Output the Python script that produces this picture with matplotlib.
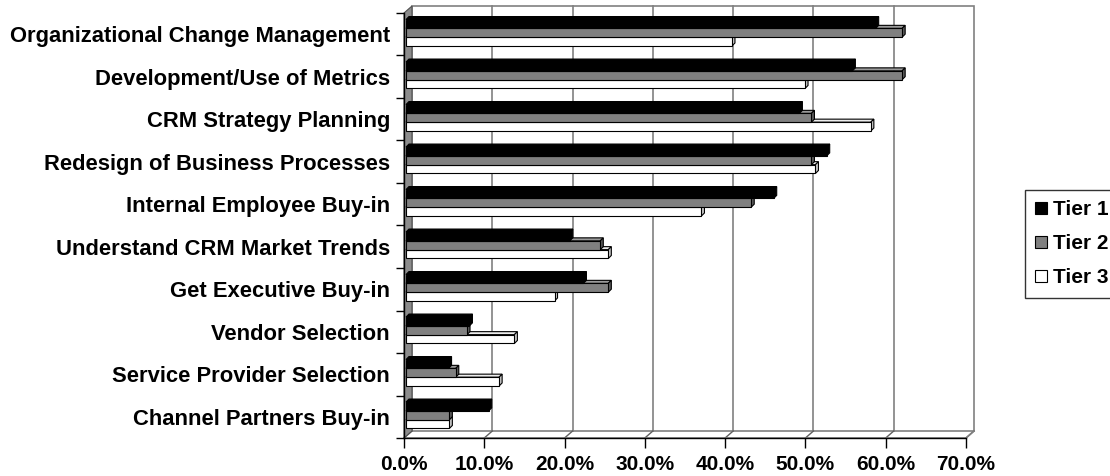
import matplotlib.pyplot as plt
from matplotlib.patches import Polygon, Patch

plt.rcParams['font.family'] = ['Liberation Sans', 'DejaVu Sans']
plt.rcParams['font.weight'] = 'bold'

categories = [
    'Organizational Change Management',
    'Development/Use of Metrics',
    'CRM Strategy Planning',
    'Redesign of Business Processes',
    'Internal Employee Buy-in',
    'Understand CRM Market Trends',
    'Get Executive Buy-in',
    'Vendor Selection',
    'Service Provider Selection',
    'Channel Partners Buy-in',
]
tier1 = [58.5, 55.6, 49.0, 52.4, 45.8, 20.4, 22.1, 7.9, 5.3, 10.3]
tier2 = [61.8, 61.8, 50.5, 50.5, 43.0, 24.2, 25.2, 7.6, 6.2, 5.4]
tier3 = [40.6, 49.7, 57.9, 51.0, 36.8, 25.2, 18.5, 13.5, 11.6, 5.4]
series_names = ['Tier 1', 'Tier 2', 'Tier 3']
xticks = [0, 10, 20, 30, 40, 50, 60, 70]

# face colours: front, side, top
faces = [('#000000', '#000000', '#000000'),
         ('#808080', '#5a5a5a', '#9a9a9a'),
         ('#ffffff', '#c8c8c8', '#ececec')]

W, H = 1110, 476
fig = plt.figure(figsize=(W / 100, H / 100), dpi=100)
x0, x1, y_top, y_bot = 404, 966, 13, 438
ax = fig.add_axes([x0 / W, 1 - y_bot / H, (x1 - x0) / W, (y_bot - y_top) / H])
ax.set_xlim(0, 70)
ax.set_ylim(len(categories) - 0.5, -0.5)

# pixel -> data unit conversion, used for the pseudo-3D depth
ux = 70 / (x1 - x0)
uy = len(categories) / (y_bot - y_top)
wall_dx, wall_dy = 8 * ux, -7 * uy
ymin, ymax = -0.5, len(categories) - 0.5

# back wall, gridlines and floor
ax.add_patch(Polygon([(wall_dx, ymin + wall_dy), (70 + wall_dx, ymin + wall_dy),
                      (70 + wall_dx, ymax + wall_dy), (wall_dx, ymax + wall_dy)],
                     closed=True, facecolor='white', edgecolor='#808080',
                     lw=1.2, clip_on=False, zorder=0))
for t in xticks[1:-1]:
    ax.plot([t + wall_dx] * 2, [ymin + wall_dy, ymax + wall_dy],
            color='#808080', lw=1.2, clip_on=False, zorder=0.5)
for t in xticks:
    ax.plot([t, t + wall_dx], [ymax, ymax + wall_dy], color='#606060',
            lw=1, clip_on=False, zorder=0.5)
ax.plot([0, 70], [ymax, ymax], color='#808080', lw=1.2, clip_on=False, zorder=0.5)
ax.plot([70, 70 + wall_dx], [ymax, ymax + wall_dy], color='#808080', lw=1.2,
        clip_on=False, zorder=0.5)

# left side wall
ax.add_patch(Polygon([(0, ymin), (wall_dx, ymin + wall_dy), (wall_dx, ymax + wall_dy),
                      (0, ymax)], closed=True, facecolor='#8c8c8c',
                     edgecolor='#505050', lw=0.8, clip_on=False, zorder=0.6))

# 3D-looking bars
h = 8.8 * uy
bx, by = 2 * ux, -1.5 * uy
ddx, ddy = 3 * ux, -3 * uy
values = [tier1, tier2, tier3]
for j in [2, 1, 0]:
    front, side, top = faces[j]
    z = 2 + (2 - j)
    for i, v in enumerate(values[j]):
        yc = i + (j - 1) * h + by
        y0, y1 = yc - h / 2, yc + h / 2
        ax.add_patch(Polygon([(bx, y0), (bx + ddx, y0 + ddy), (v + bx + ddx, y0 + ddy),
                              (v + bx, y0)], closed=True, facecolor=top,
                             edgecolor='black', lw=0.8, zorder=z, clip_on=False))
        ax.add_patch(Polygon([(v + bx, y0), (v + bx + ddx, y0 + ddy),
                              (v + bx + ddx, y1 + ddy), (v + bx, y1)], closed=True,
                             facecolor=side, edgecolor='black', lw=0.8, zorder=z,
                             clip_on=False))
        ax.barh(yc, v, left=bx, height=h, color=front, edgecolor='black',
                lw=0.8, zorder=z + 0.1, clip_on=False)

# axes and ticks
ax.set_facecolor('none')
for s in ['top', 'right']:
    ax.spines[s].set_visible(False)
for s in ['left', 'bottom']:
    ax.spines[s].set_color('black')
    ax.spines[s].set_linewidth(1)
    ax.spines[s].set_zorder(10)
ax.set_xticks(xticks)
ax.set_xticklabels([f'{t:.1f}%' for t in xticks], fontsize=15, fontweight='bold')
ax.tick_params(axis='x', length=7, width=1, pad=5)
ax.set_yticks(range(len(categories)))
ax.set_yticklabels(categories, fontsize=15.8, fontweight='bold')
ax.set_yticks([k - 0.5 for k in range(len(categories) + 1)], minor=True)
ax.tick_params(axis='y', which='major', length=0, pad=10)
ax.tick_params(axis='y', which='minor', length=6, width=1)

handles = [Patch(facecolor=faces[j][0], edgecolor='black', lw=0.8) for j in range(3)]
ax.legend(handles, series_names, loc='upper left', bbox_to_anchor=(1025 / W, 1 - 190 / H),
          bbox_transform=fig.transFigure, frameon=True, fancybox=False,
          edgecolor='black', fontsize=15, handlelength=0.55, handleheight=0.55,
          handletextpad=0.3, labelspacing=0.72, borderpad=0.5, borderaxespad=0)

fig.savefig('out.png', dpi=100)
